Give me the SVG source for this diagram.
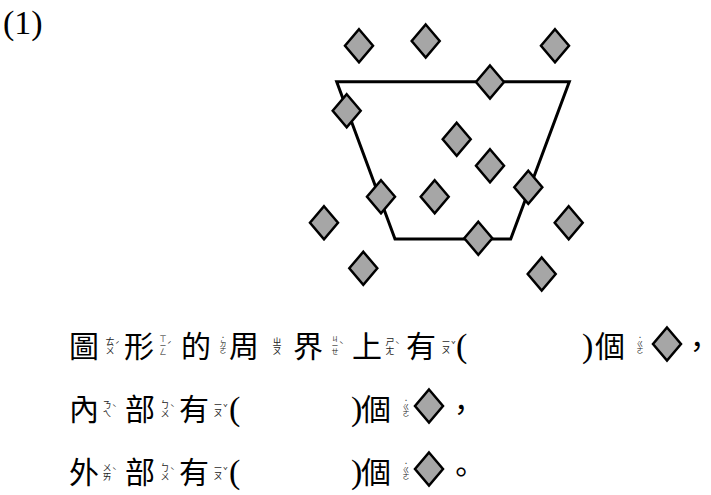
<svg xmlns="http://www.w3.org/2000/svg" xmlns:xlink="http://www.w3.org/1999/xlink" width="711" height="495" viewBox="0 0 711 495">
<style>
.t{font-family:"Noto Sans CJK TC","Noto Sans CJK JP",sans-serif;font-size:30px;fill:#000;text-anchor:middle}
.p{font-family:"Liberation Serif",serif;font-size:34px;fill:#000}
.v{font-family:"Noto Sans CJK TC","Noto Sans CJK JP",sans-serif;font-size:9px;fill:#222;text-anchor:middle;writing-mode:vertical-rl;text-orientation:upright}
.v3{font-size:7px}
.tn{font-family:"Noto Sans CJK TC","Noto Sans CJK JP",sans-serif;font-size:8px;fill:#222}
.dia{fill:#a6a6a6;stroke:#000;stroke-width:2.5;stroke-linejoin:miter}
.trap{fill:none;stroke:#000;stroke-width:3;stroke-linejoin:miter}
</style>
<defs>
<path id="d" d="M0,-16.5 L14,0 L0,16.5 L-14,0 Z"/>
</defs>
<rect width="711" height="495" fill="#fff"/>
<text class="p" x="3" y="34">(1)</text>
<g id="figure">
<polygon class="trap" points="336.7,81.7 569.3,81.7 510.7,239 395,239"/>
<g id="diamonds" class="dia">
<use xlink:href="#d" x="359" y="45.7"/>
<use xlink:href="#d" x="425.7" y="41"/>
<use xlink:href="#d" x="555" y="45.7"/>
<use xlink:href="#d" x="490" y="82"/>
<use xlink:href="#d" x="346.7" y="110.7"/>
<use xlink:href="#d" x="456.7" y="139.3"/>
<use xlink:href="#d" x="490" y="165.7"/>
<use xlink:href="#d" x="381" y="196.7"/>
<use xlink:href="#d" x="434.7" y="196.7"/>
<use xlink:href="#d" x="528.3" y="187.3"/>
<use xlink:href="#d" x="324" y="222.7"/>
<use xlink:href="#d" x="568.7" y="222.7"/>
<use xlink:href="#d" x="478.3" y="238.3"/>
<use xlink:href="#d" x="363.3" y="268.3"/>
<use xlink:href="#d" x="541.7" y="274"/>
</g>
</g>
<g id="line1">
<text class="t" x="84" y="357">圖</text>
<text class="v" x="110" y="346">ㄊㄨ</text><text class="tn" x="115" y="348">ˊ</text>
<text class="t" x="139" y="357">形</text>
<text class="v v3" x="163" y="345">ㄒㄧㄥ</text><text class="tn" x="167" y="348">ˊ</text>
<text class="t" x="196" y="357">的</text>
<text class="v v3" x="223" y="345">˙ㄉㄜ</text>
<text class="t" x="244" y="357">周</text>
<text class="v" x="277" y="346">ㄓㄡ</text>
<text class="t" x="308" y="357">界</text>
<text class="v v3" x="335" y="345">ㄐㄧㄝ</text><text class="tn" x="339" y="348">ˋ</text>
<text class="t" x="367" y="357">上</text>
<text class="v" x="390" y="346">ㄕㄤ</text><text class="tn" x="395" y="348">ˋ</text>
<text class="t" x="421" y="357">有</text>
<text class="v" x="446" y="346">ㄧㄡ</text><text class="tn" x="451" y="348">ˇ</text>
<text class="p" x="456" y="357">(</text>
<text class="p" x="582" y="357">)</text>
<text class="t" x="610" y="357">個</text>
<text class="v v3" x="640" y="345">˙ㄍㄜ</text>
<use class="dia" xlink:href="#d" x="667" y="344"/>
<text class="t" x="697" y="357">，</text>
</g>
<g id="line2">
<text class="t" x="84" y="420">內</text>
<text class="v" x="107" y="409">ㄋㄟ</text><text class="tn" x="112" y="411">ˋ</text>
<text class="t" x="140" y="420">部</text>
<text class="v" x="165" y="409">ㄅㄨ</text><text class="tn" x="170" y="411">ˋ</text>
<text class="t" x="194" y="420">有</text>
<text class="v" x="218" y="409">ㄧㄡ</text><text class="tn" x="223" y="411">ˇ</text>
<text class="p" x="229" y="420">(</text>
<text class="p" x="351" y="420">)</text>
<text class="t" x="376" y="420">個</text>
<text class="v v3" x="406" y="408">˙ㄍㄜ</text>
<use class="dia" xlink:href="#d" x="429" y="406"/>
<text class="t" x="461" y="420">，</text>
</g>
<g id="line3">
<text class="t" x="84" y="483">外</text>
<text class="v" x="107" y="472">ㄨㄞ</text><text class="tn" x="112" y="474">ˋ</text>
<text class="t" x="140" y="483">部</text>
<text class="v" x="165" y="472">ㄅㄨ</text><text class="tn" x="170" y="474">ˋ</text>
<text class="t" x="194" y="483">有</text>
<text class="v" x="218" y="472">ㄧㄡ</text><text class="tn" x="223" y="474">ˇ</text>
<text class="p" x="229" y="483">(</text>
<text class="p" x="351" y="483">)</text>
<text class="t" x="376" y="483">個</text>
<text class="v v3" x="406" y="471">˙ㄍㄜ</text>
<use class="dia" xlink:href="#d" x="429" y="469"/>
<text class="t" x="461" y="483">。</text>
</g>
</svg>
